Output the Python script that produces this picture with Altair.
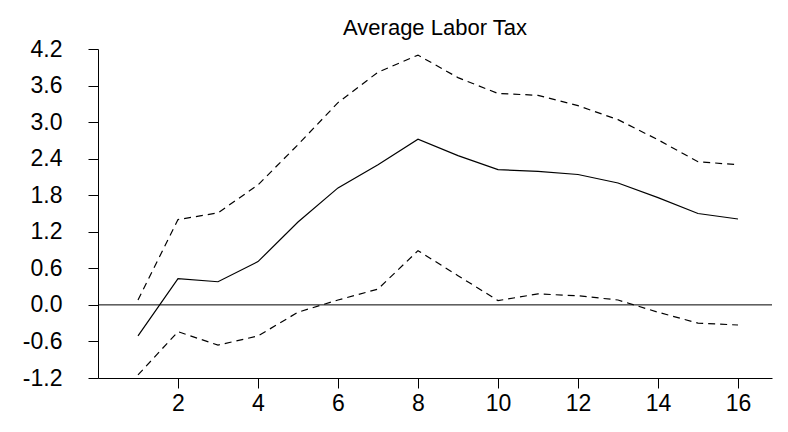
import altair as alt
import pandas as pd

steps = list(range(1, 17))
mid = [-0.51,0.43,0.38,0.71,1.36,1.92,2.3,2.72,2.45,2.22,2.19,2.14,2.0,1.76,1.5,1.41]
upper = [0.08,1.4,1.51,1.97,2.63,3.32,3.82,4.1,3.73,3.47,3.44,3.27,3.04,2.71,2.35,2.3]
lower = [-1.15,-0.44,-0.66,-0.51,-0.12,0.08,0.26,0.89,0.48,0.07,0.18,0.15,0.08,-0.12,-0.3,-0.33]
yticks = [-1.2,-0.6,0,0.6,1.2,1.8,2.4,3.0,3.6,4.2]

rows = []
for s, m, u, l in zip(steps, mid, upper, lower):
    rows += [dict(step=s, v=m, band="mid"), dict(step=s, v=u, band="upper"), dict(step=s, v=l, band="lower")]
df = pd.DataFrame(rows)

F = "Liberation Sans"
common = dict(grid=False, title=None, labelFontSize=23, labelFont=F, labelColor="black",
              domainColor="black", tickColor="black", tickSize=10,
              labelOverlap=False, labelFlush=False)
x = alt.X("step:Q", scale=alt.Scale(domain=[0, 16.85], nice=False, zero=False),
          axis=alt.Axis(values=list(range(2, 17, 2)), labelPadding=4, **common))
yax = alt.Axis(values=yticks, labelExpr="replace(format(datum.value, '.1f'), '−', '-')",
               labelPadding=26, **common)
ysc = alt.Scale(domain=[-1.2, 4.2], nice=False)

solid = alt.Chart(df[df.band == "mid"]).mark_line(color="black", strokeWidth=1.2).encode(
    x=x, y=alt.Y("v:Q", scale=ysc, axis=yax))
dash = alt.Chart(df[df.band != "mid"]).mark_line(color="black", strokeWidth=1.2, strokeDash=[7, 5]).encode(
    x=x, y=alt.Y("v:Q", scale=ysc, axis=yax), detail="band:N")
zero = alt.Chart(pd.DataFrame({"v": [0.0]})).mark_rule(color="black", strokeWidth=1).encode(
    y=alt.Y("v:Q", scale=ysc, axis=yax))

chart = alt.layer(solid, dash, zero).properties(
    width=674, height=329, background="white",
    title=alt.Title("Average Labor Tax", font=F, fontSize=22, fontWeight="normal", color="black", offset=-2),
    autosize=alt.AutoSizeParams(type="none"),
    padding={"left": 90, "top": 41, "right": 8, "bottom": 46},
).configure_view(strokeWidth=0, stroke=None)

chart.save("out.html", embed_options={"renderer": "svg", "actions": False})
